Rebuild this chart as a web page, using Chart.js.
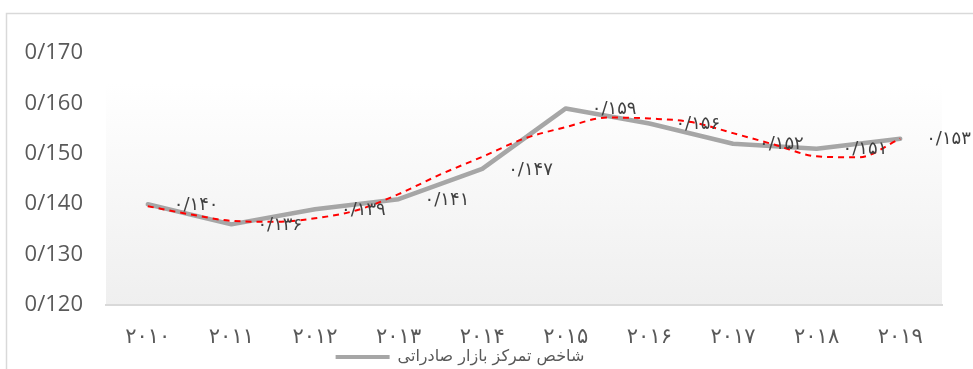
<!DOCTYPE html>
<html>
<head>
<meta charset="utf-8">
<script src="https://cdn.jsdelivr.net/npm/chart.js@4.4.1/dist/chart.umd.min.js"></script>
<style>
  html, body { margin: 0; padding: 0; background: #ffffff; overflow: hidden; }
  #wrap { position: relative; width: 973px; height: 369px; overflow: hidden; }
</style>
</head>
<body>
<div id="wrap"><canvas id="chart" width="973" height="375"></canvas></div>
<script>
// Years shown on the category axis
const years = [2010, 2011, 2012, 2013, 2014, 2015, 2016, 2017, 2018, 2019];
// Export market concentration index, one value per year
const exportConcentration = [0.140, 0.136, 0.139, 0.141, 0.147, 0.159, 0.156, 0.152, 0.151, 0.153];
// Fitted trend curve, sampled every half year
const trendYears = [2010, 2010.5, 2011, 2011.5, 2012, 2012.5, 2013, 2013.5, 2014, 2014.5,
                    2015, 2015.5, 2016, 2016.5, 2017, 2017.5, 2018, 2018.5, 2019];
const trendValues = [0.1396, 0.1380, 0.1367, 0.1365, 0.1372, 0.1388, 0.1420, 0.1459, 0.1494, 0.1530,
                     0.1553, 0.1572, 0.1570, 0.1563, 0.1541, 0.1518, 0.1495, 0.1493, 0.1530];
// Value axis range
const yAxisMin = 0.12;
const yAxisMax = 0.17;
const yAxisStep = 0.01;
const seriesName = 'شاخص تمرکز بازار صادراتی';

const faDigits = '۰۱۲۳۴۵۶۷۸۹';
const toPersian = s => String(s).replace(/\d/g, d => faDigits[+d]);
const categories = years.map(y => toPersian(y));

// Plot-area gradient and the outer frame line
const backdrop = {
  id: 'backdrop',
  beforeDraw(chart) {
    const { ctx, chartArea: a } = chart;
    ctx.save();
    const g = ctx.createLinearGradient(0, a.top, 0, a.bottom);
    g.addColorStop(0, '#ffffff');
    g.addColorStop(0.12, '#ffffff');
    g.addColorStop(1, '#efefef');
    ctx.fillStyle = g;
    ctx.fillRect(a.left, a.top, a.right - a.left, a.bottom - a.top);
    ctx.strokeStyle = '#d9d9d9';
    ctx.lineWidth = 1.5;
    ctx.strokeRect(6.5, 13.5, 1100, 500);
    ctx.restore();
  }
};

// Value labels to the right of each point
const valueLabels = {
  id: 'valueLabels',
  afterDatasetsDraw(chart) {
    const { ctx } = chart;
    const meta = chart.getDatasetMeta(0);
    ctx.save();
    ctx.font = '18px "DejaVu Sans"';
    ctx.fillStyle = '#404040';
    ctx.textAlign = 'left';
    ctx.textBaseline = 'middle';
    meta.data.forEach((pt, i) => {
      const txt = toPersian(exportConcentration[i].toFixed(3).replace('.', '/'));
      ctx.fillText(txt, pt.x + 26, pt.y + 1);
    });
    ctx.restore();
  }
};

new Chart(document.getElementById('chart'), {
  type: 'line',
  data: {
    labels: categories,
    datasets: [
      {
        label: seriesName,
        data: exportConcentration,
        xAxisID: 'x',
        borderColor: '#a6a6a6',
        backgroundColor: '#a6a6a6',
        borderWidth: 4.5,
        borderJoinStyle: 'round',
        borderCapStyle: 'round',
        pointRadius: 0,
        tension: 0,
        order: 2
      },
      {
        label: 'trend',
        data: trendYears.map((t, i) => ({ x: t, y: trendValues[i] })),
        xAxisID: 'xt',
        borderColor: '#ff0000',
        borderWidth: 2,
        borderDash: [6, 5],
        pointRadius: 0,
        cubicInterpolationMode: 'monotone',
        order: 1
      }
    ]
  },
  options: {
    responsive: false,
    animation: false,
    devicePixelRatio: 1,
    layout: { padding: { left: -22, right: 31, top: 53, bottom: 0 } },
    scales: {
      x: {
        type: 'category',
        offset: true,
        grid: { display: false, drawTicks: false },
        border: { display: true, color: '#d9d9d9', width: 2 },
        ticks: {
          color: '#595959',
          font: { family: 'DejaVu Sans', size: 21 },
          padding: 20,
          maxRotation: 0,
          autoSkip: false
        },
        afterFit(s) { s.height = 40; }
      },
      xt: { type: 'linear', display: false, min: 2009.5, max: 2019.5 },
      y: {
        min: yAxisMin,
        max: yAxisMax,
        grid: { display: false, drawTicks: false },
        border: { display: false },
        ticks: {
          stepSize: yAxisStep,
          padding: 23,
          color: '#595959',
          font: { family: 'Open Sans', size: 22 },
          callback: v => v.toFixed(3).replace('.', '/')
        },
        afterFit(s) { s.width = 128; }
      }
    },
    plugins: {
      tooltip: { enabled: false },
      legend: {
        position: 'bottom',
        labels: {
          boxWidth: 54,
          boxHeight: 4,
          padding: 4,
          useBorderRadius: true,
          borderRadius: 2,
          color: '#595959',
          font: { family: 'DejaVu Sans', size: 16 },
          generateLabels: () => [{
            text: seriesName,
            fillStyle: '#a6a6a6',
            strokeStyle: '#a6a6a6',
            lineWidth: 0,
            hidden: false,
            datasetIndex: 0,
            fontColor: '#595959'
          }]
        }
      }
    }
  },
  plugins: [backdrop, valueLabels]
});
</script>
</body>
</html>
